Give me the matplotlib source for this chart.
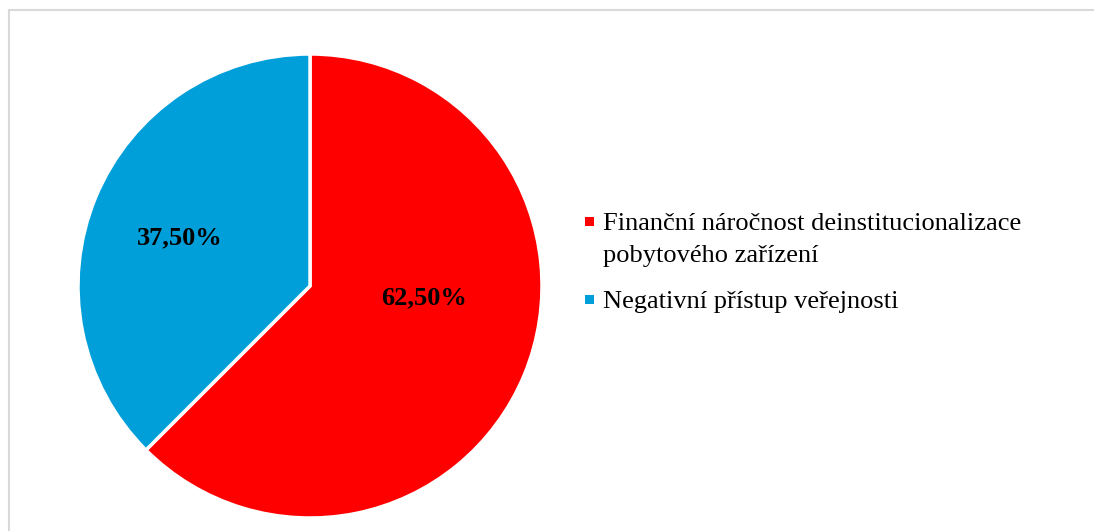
import matplotlib.pyplot as plt
import matplotlib.patches as patches

labels = ["Finanční náročnost deinstitucionalizace\npobytového zařízení",
          "Negativní přístup veřejnosti"]
values = [62.5, 37.5]
pct_text = ["62,50%", "37,50%"]
colors = ["#FF0000", "#009FDA"]

W, H = 1094, 531
plt.rcParams['font.family'] = ['Liberation Serif', 'DejaVu Serif']
fig = plt.figure(figsize=(W / 100, H / 100), dpi=100)


def fx(px):
    return px / W


def fy(py):
    return 1 - py / H


# light grey frame (cut off at right/bottom in the reference)
fig.add_artist(patches.Rectangle((fx(9), -0.05), 1.2, fy(9.5) + 0.05,
                                 transform=fig.transFigure, fill=False,
                                 edgecolor="#D9D9D9", linewidth=1.5))

# pie centre and radius in pixels
cx, cy, r = 310, 286, 232
ax = fig.add_axes([fx(cx - r), fy(cy + r), 2 * r / W, 2 * r / H])
ax.pie(values, colors=colors, startangle=90, counterclock=False,
       radius=1, wedgeprops=dict(edgecolor="white", linewidth=2.5))
ax.set_xlim(-1, 1)
ax.set_ylim(-1, 1)
ax.set_aspect("equal")
ax.axis("off")

# percentage labels
for (x, y), t in zip([(424, 298), (180, 238)], pct_text):
    fig.text(fx(x), fy(y), t, ha="center", va="center",
             fontsize=19, fontweight="bold", color="black")

# legend drawn by hand: square marker + lines of text
baselines = [230, 308]
for lab, c, b in zip(labels, colors, baselines):
    fig.add_artist(patches.Rectangle((fx(585), fy(b - 4)), 9 / W, 9 / H,
                                     transform=fig.transFigure,
                                     facecolor=c, edgecolor="none"))
    for i, line in enumerate(lab.split("\n")):
        fig.text(fx(603), fy(b + 32 * i), line, ha="left", va="baseline",
                 fontsize=19, color="black")

fig.savefig("out.png", dpi=100)
